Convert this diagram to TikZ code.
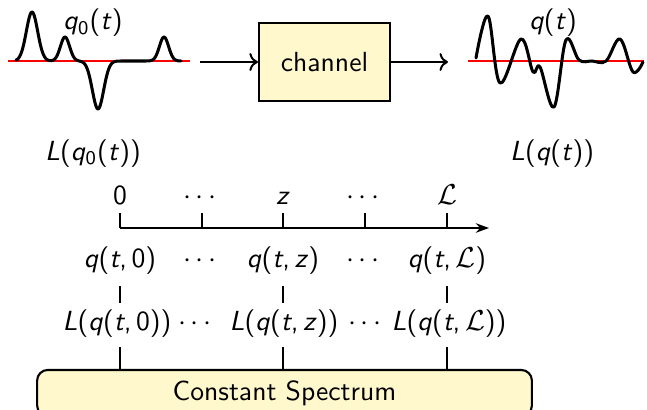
\documentclass[tikz,border=0pt]{standalone}
\usetikzlibrary{arrows.meta,calc}
\definecolor{boxfill}{RGB}{255,248,204}
\newcommand\vv[1]{\textit{#1}}
\newcommand\cl{$\mathcal{L}$}
\begin{document}
\begin{tikzpicture}[x=0.38pt,y=-0.38pt,
  font=\sffamily\fontsize{10.5}{12.6}\selectfont,
  declare function={gs(\x,\m,\s)=exp(-min(((\x-\m)/\s)^2,30));},
  wave/.style={line width=1.15pt, line join=round, line cap=round},
  zeroline/.style={red, line width=0.7pt},
  conn/.style={line width=0.75pt},
  lbl/.style={anchor=base, inner sep=0pt},
  boxnode/.style={draw, line width=0.8pt, fill=boxfill}]
\useasboundingbox (0,0) rectangle (647,409);

% left waveform
\draw[zeroline] (8,61) -- (190,61);
\draw[wave] plot[domain=16:181, samples=200, smooth]
  (\x, {61 - 49*gs(\x,32,8) - 24*gs(\x,65,6.5) + 48*gs(\x,98,8) - 24*gs(\x,164,6.5)});
\node[lbl] (q0t) at (93,30) {\vv{q}\textsubscript{0}(\vv{t})};

% right waveform
\draw[zeroline] (468,61) -- (644,61);
\draw[wave] plot[smooth, tension=0.6] coordinates {
  (476,58) (488,16) (500,83) (521,39) (533,72) (540,67) (554,107)
  (566,40) (579,60) (592,61) (606,61) (620,39) (633,72) (643,62)};
\node[lbl] (qt) at (553,30) {\vv{q}(\vv{t})};

% channel
\node[boxnode, minimum width=49.8pt, minimum height=29.6pt] (ch) at (324.5,62) {channel};
\coordinate (win) at (200,62);
\coordinate (wout) at (448,62);
\draw[conn,->] (win) -- (ch.west);
\draw[conn,->] (ch.east) -- (wout);

\node[lbl] (Lq0) at (93,160) {\vv{L}(\vv{q}\textsubscript{0}(\vv{t}))};
\node[lbl] (Lq) at (552,160) {\vv{L}(\vv{q}(\vv{t}))};

% axis
\coordinate (ax0) at (120,228);
\coordinate (ax1) at (489,228);
\draw[conn,-{Stealth[length=5pt,width=3.6pt]}] (ax0) -- (ax1);
\foreach \xx in {120,202,283,365,447} \draw[conn] (\xx,213) -- (\xx,228);
\node[lbl] (t0) at (120,204) {0};
\node[lbl] (t1) at (200,204) {$\cdots$};
\node[lbl] (t2) at (283,204) {\vv{z}};
\node[lbl] (t3) at (363,204) {$\cdots$};
\node[lbl] (t4) at (447,204) {\cl};

% q row
\node[lbl] (qa) at (120,267) {\vv{q}(\vv{t},\,0)};
\node[lbl] (qd1) at (200,267) {$\cdots$};
\node[lbl] (qb) at (283,267) {\vv{q}(\vv{t},\,\vv{z})};
\node[lbl] (qd2) at (363,267) {$\cdots$};
\node[lbl] (qc) at (447,267) {\vv{q}(\vv{t},\,\cl)};

% L row
\node[lbl] (La) at (117,330) {\vv{L}(\vv{q}(\vv{t},\,0))};
\node[lbl] (Ld1) at (195,330) {$\cdots$};
\node[lbl] (Lb) at (284,330) {\vv{L}(\vv{q}(\vv{t},\,\vv{z}))};
\node[lbl] (Ld2) at (365,330) {$\cdots$};
\node[lbl] (Lc) at (449,330) {\vv{L}(\vv{q}(\vv{t},\,\cl))};

% constant spectrum box
\node[boxnode, rounded corners=4pt, minimum width=188pt, minimum height=17.5pt] (cs) at (284.5,393) {Constant Spectrum};

% connectors
\foreach \q/\L/\xx in {qa/La/120, qb/Lb/283, qc/Lc/447}{
  \draw[conn] ($(\q.base)+(0,19)$) -- ($(\q.base)+(0,36)$);
  \draw[conn] (\xx,347) -- (\xx,370);
}
\end{tikzpicture}
\end{document}
